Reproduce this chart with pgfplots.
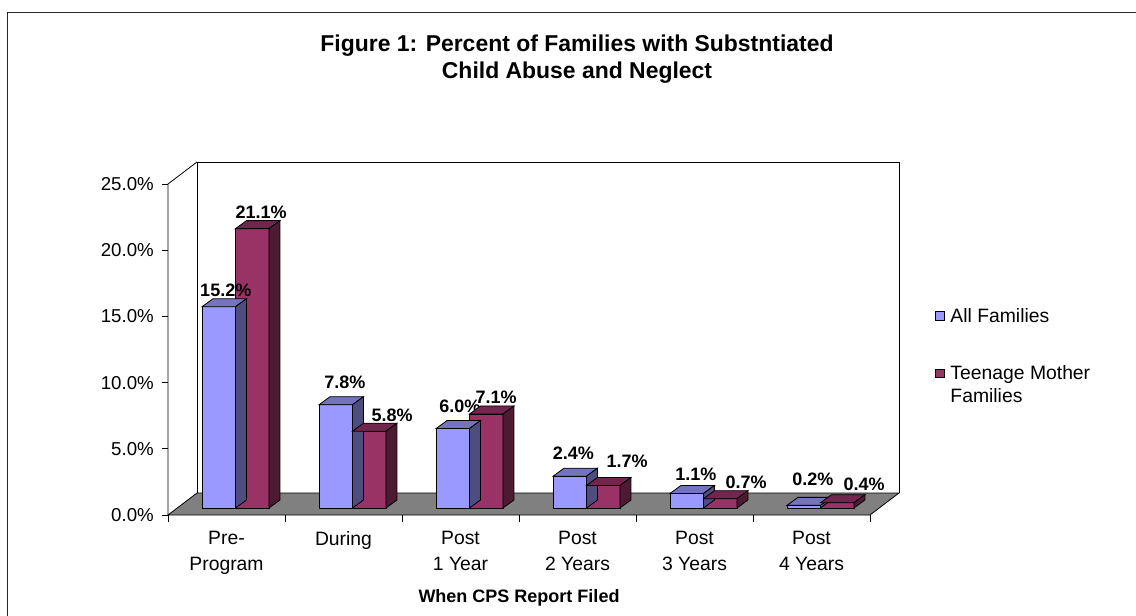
\documentclass[border=0pt]{standalone}
\usepackage{pgfplots}
\pgfplotsset{compat=1.18}
\usepackage{pgfplotstable}
\usepackage{fontspec}
\setmainfont{Liberation Sans}

\definecolor{blueF}{HTML}{9999FF}
\definecolor{blueT}{HTML}{7373BF}
\definecolor{blueS}{HTML}{4D4D80}
\definecolor{redF}{HTML}{993366}
\definecolor{redT}{HTML}{73264D}
\definecolor{redS}{HTML}{4D1A33}
\definecolor{floorC}{HTML}{808080}

\newdimen\barh
% bar plane unit: 9.93pt per percent; bar width 25.1pt; depth (8.25pt,6pt)
\pgfdeclareplotmark{boxA}{%
  \pgfmathsetlength{\barh}{\barval*9.93}%
  \pgfsetfillcolor{blueT}%
  \pgfpathmoveto{\pgfqpoint{-25.1pt}{0pt}}%
  \pgfpathlineto{\pgfqpoint{0pt}{0pt}}%
  \pgfpathlineto{\pgfqpoint{8.25pt}{6pt}}%
  \pgfpathlineto{\pgfqpoint{-16.85pt}{6pt}}%
  \pgfpathclose
  \pgfusepath{fill,stroke}%
  \pgfsetfillcolor{blueS}%
  \pgfpathmoveto{\pgfqpoint{0pt}{0pt}}%
  \pgfpathlineto{\pgfqpoint{8.25pt}{6pt}}%
  \pgfpathlineto{\pgfqpoint{8.25pt}{\dimexpr 6pt-\barh\relax}}%
  \pgfpathlineto{\pgfqpoint{0pt}{-\barh}}%
  \pgfpathclose
  \pgfusepath{fill,stroke}%
}
\pgfdeclareplotmark{boxB}{%
  \pgfmathsetlength{\barh}{\barval*9.93}%
  \pgfsetfillcolor{redT}%
  \pgfpathmoveto{\pgfqpoint{0pt}{0pt}}%
  \pgfpathlineto{\pgfqpoint{25.1pt}{0pt}}%
  \pgfpathlineto{\pgfqpoint{33.35pt}{6pt}}%
  \pgfpathlineto{\pgfqpoint{8.25pt}{6pt}}%
  \pgfpathclose
  \pgfusepath{fill,stroke}%
  \pgfsetfillcolor{redS}%
  \pgfpathmoveto{\pgfqpoint{25.1pt}{0pt}}%
  \pgfpathlineto{\pgfqpoint{33.35pt}{6pt}}%
  \pgfpathlineto{\pgfqpoint{33.35pt}{\dimexpr 6pt-\barh\relax}}%
  \pgfpathlineto{\pgfqpoint{25.1pt}{-\barh}}%
  \pgfpathclose
  \pgfusepath{fill,stroke}%
}

% lx, ly: label offsets (pt) from the top centre of each front face
\pgfplotstableread{
x v lx ly
0 15.2 5.25 7.5
1 7.8 6.75 12
2 6.0 5.25 12
3 2.4 2.625 12.75
4 1.1 6.75 9.75
5 0.2 6.75 15
}\allData
\pgfplotstableread{
x v lx ly
0 21.1 6.75 7.5
1 5.8 17.25 7.5
2 7.1 7.5 7.5
3 1.7 18 13.5
4 0.7 19.5 7.5
5 0.4 20.25 9
}\teenData

\begin{document}
\begin{tikzpicture}
\useasboundingbox (0,0) rectangle (852pt,461.25pt);
\fill[white] (0,0) rectangle (852pt,461.25pt);
\draw[line width=0.8pt, black!85] (5.85pt,-5pt) -- (5.85pt,452.1pt) -- (860pt,452.1pt);

\node[font=\bfseries\fontsize{17.2}{20}\selectfont, anchor=base] at (432.75pt,422.5pt) {Figure 1: Percent of Families with Substntiated};
\node[font=\bfseries\fontsize{17.2}{20}\selectfont, anchor=base] at (432.75pt,402pt) {Child Abuse and Neglect};
\node[font=\bfseries\fontsize{13.5}{16}\selectfont, anchor=base] at (389.25pt,9.75pt) {When CPS Report Filed};

\begin{axis}[
  at={(132.75pt,80.25pt)}, anchor=south west,
  scale only axis, width=526.5pt, height=248.25pt,
  xmin=-0.5, xmax=5.5, ymin=0, ymax=25, enlargelimits=false,
  clip=false,
  axis lines=left, axis line style={draw=none},
  major tick length=0pt,
  xtick={0,...,5},
  xticklabels={Pre-\\Program, During, Post\\1 Year, Post\\2 Years, Post\\3 Years, Post\\4 Years},
  xticklabel style={anchor=north, inner sep=0pt, align=center, font=\fontsize{14.5}{19.3}\selectfont, xshift=-6.75pt, yshift=-17.25pt},
  ytick={0,5,...,25},
  yticklabel={\pgfmathprintnumber[fixed,fixed zerofill,precision=1]{\tick}\%},
  yticklabel style={anchor=east, inner sep=0pt, font=\fontsize{14}{16}\selectfont, xshift=-17.25pt, yshift=-5.25pt},
  /pgf/number format/assume math mode=true,
  legend style={at={(axis description cs:1.0798,0.6042)}, anchor=north west, draw=none, fill=none, inner sep=0pt, outer sep=0pt, row sep=29.8pt, column sep=4.5pt, font=\fontsize{14.5}{17}\selectfont, nodes={inner sep=0pt}, cells={anchor=base west}},
]
% floor
\filldraw[fill=floorC, draw=black, line width=0.6pt]
  ([shift={(-6.75pt,-5.25pt)}]axis cs:-0.5,0) -- ([shift={(-6.75pt,-5.25pt)}]axis cs:5.5,0)
  -- ([shift={(15pt,11.25pt)}]axis cs:5.5,0) -- ([shift={(15pt,11.25pt)}]axis cs:-0.5,0) -- cycle;
% back wall
\draw[black, line width=0.6pt] ([shift={(15pt,11.25pt)}]axis cs:-0.5,0) -- ([shift={(15pt,11.25pt)}]axis cs:-0.5,25)
  -- ([shift={(15pt,11.25pt)}]axis cs:5.5,25) -- ([shift={(15pt,11.25pt)}]axis cs:5.5,0);
% left wall front edge and top diagonal
\draw[black, line width=0.6pt] ([shift={(-6.75pt,-5.25pt)}]axis cs:-0.5,0) -- ([shift={(-6.75pt,-5.25pt)}]axis cs:-0.5,25)
  -- ([shift={(15pt,11.25pt)}]axis cs:-0.5,25);
% ticks
\pgfplotsinvokeforeach{0,5,10,15,20,25}{
  \draw[black, line width=0.6pt] ([shift={(-6.75pt,-5.25pt)}]axis cs:-0.5,#1) -- ([shift={(-11.25pt,-5.25pt)}]axis cs:-0.5,#1);
}
\pgfplotsinvokeforeach{-0.5,0.5,1.5,2.5,3.5,4.5,5.5}{
  \draw[black, line width=0.6pt] ([shift={(-6.75pt,-5.25pt)}]axis cs:#1,0) -- ([shift={(-6.75pt,-10.5pt)}]axis cs:#1,0);
}

\addplot[ybar, bar width=25.1pt, bar shift=-12.55pt, fill=blueF, draw=black, line width=0.6pt,
  legend image code/.code={\draw[fill=blueF, draw=black, line width=0.6pt] (0pt,1.3pt) rectangle (6.5pt,8pt);},
  visualization depends on={\thisrow{lx} \as \lx},
  visualization depends on={\thisrow{ly} \as \ly},
  nodes near coords={\pgfmathprintnumber[fixed,fixed zerofill,precision=1]{\pgfplotspointmeta}\%},
  nodes near coords style={anchor=base, inner sep=0pt, font=\bfseries\fontsize{13.5}{16}\selectfont, text=black, xshift=-12.55pt, xshift=\lx, yshift=\ly},
] table[x=x, y=v] {\allData};
\addlegendentry{All Families}
\addplot[only marks, mark=boxA, forget plot, mark options={draw=black, line width=0.6pt},
  visualization depends on={\thisrow{v} \as \barval}] table[x=x, y=v] {\allData};

\addplot[ybar, bar width=25.1pt, bar shift=12.55pt, fill=redF, draw=black, line width=0.6pt,
  legend image code/.code={\draw[fill=redF, draw=black, line width=0.6pt] (0pt,1.3pt) rectangle (6.5pt,8pt);},
  visualization depends on={\thisrow{lx} \as \lx},
  visualization depends on={\thisrow{ly} \as \ly},
  nodes near coords={\pgfmathprintnumber[fixed,fixed zerofill,precision=1]{\pgfplotspointmeta}\%},
  nodes near coords style={anchor=base, inner sep=0pt, font=\bfseries\fontsize{13.5}{16}\selectfont, text=black, xshift=12.55pt, xshift=\lx, yshift=\ly},
] table[x=x, y=v] {\teenData};
\addlegendentry{\begin{tabular}[t]{@{}l@{}}Teenage Mother\\Families\end{tabular}}
\addplot[only marks, mark=boxB, forget plot, mark options={draw=black, line width=0.6pt},
  visualization depends on={\thisrow{v} \as \barval}] table[x=x, y=v] {\teenData};
\end{axis}
\end{tikzpicture}
\end{document}
